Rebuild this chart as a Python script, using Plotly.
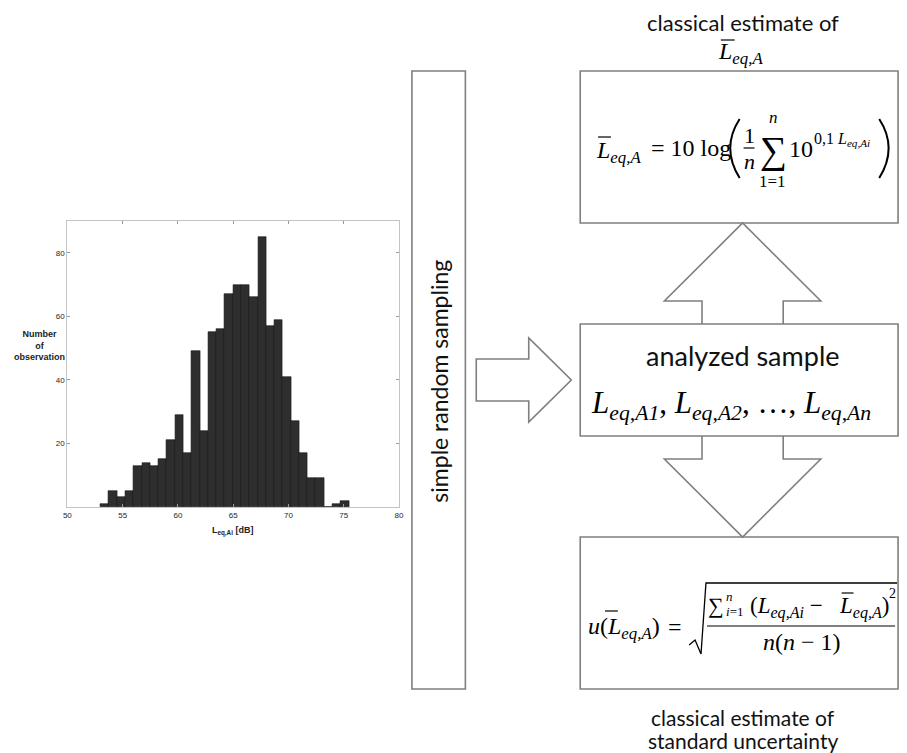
import plotly.graph_objects as go

# Histogram of measured equivalent sound levels
counts = [1, 5, 3, 5, 13, 14, 13, 15, 21, 29, 17, 49, 24, 55, 56,
          67, 70, 70, 66, 85, 57, 59, 41, 27, 17, 9, 9, 0, 1, 2]
bin_lo, bin_hi = 53.0, 75.47
x_ticks = [50, 55, 60, 65, 70, 75, 80]
y_ticks = [20, 40, 60, 80]

W, H = 907, 753
SERIF = "Liberation Serif"
SANS = "Lato"
HIST_FONT = "Liberation Sans"
EDGE = "#7f7f7f"

nb = len(counts)
bw = (bin_hi - bin_lo) / nb
centers = [bin_lo + bw * (i + 0.5) for i in range(nb)]

fig = go.Figure()
fig.add_trace(go.Bar(
    x=centers, y=counts, width=[bw] * nb,
    marker=dict(color="#2e2e2e", line=dict(color="#1a1a1a", width=0.6)),
    xaxis="x", yaxis="y", showlegend=False, hoverinfo="skip",
))
# empty trace so the full-page overlay axes exist
fig.add_trace(go.Scatter(x=[], y=[], xaxis="x2", yaxis="y2",
                         showlegend=False, hoverinfo="skip"))


def px(v):
    return v / W


def py(v):
    return 1 - v / H


axis_common = dict(showline=True, linecolor="#c4c4c4", linewidth=1,
                   mirror="ticks", ticks="inside", ticklen=3,
                   tickcolor="#9a9a9a", showgrid=False, zeroline=False,
                   tickfont=dict(family=HIST_FONT, size=8, color="#262626"))

fig.update_layout(
    width=W, height=H,
    margin=dict(l=0, r=0, t=0, b=0),
    paper_bgcolor="white", plot_bgcolor="rgba(0,0,0,0)",
    bargap=0,
    xaxis=dict(domain=[px(64), px(399)], range=[50, 80],
               tickvals=x_ticks, anchor="y", **axis_common),
    yaxis=dict(domain=[py(507), py(221)], range=[0, 90],
               tickvals=y_ticks, anchor="x", **axis_common),
    xaxis2=dict(domain=[0, 1], range=[0, W], visible=False, anchor="y2",
                fixedrange=True),
    yaxis2=dict(domain=[0, 1], range=[H, 0], visible=False, anchor="x2",
                fixedrange=True),
)

shapes = []
annotations = []


def txt(x, y, s, size, family=SERIF, xanchor="center", yanchor="middle",
        color="black", angle=0):
    annotations.append(dict(x=x, y=y, xref="x2", yref="y2", text=s,
                            showarrow=False, xanchor=xanchor, yanchor=yanchor,
                            textangle=angle,
                            font=dict(family=family, size=size, color=color)))


def line(x0, y0, x1, y1, color="black", width=1.2):
    shapes.append(dict(type="line", x0=x0, y0=y0, x1=x1, y1=y1,
                       xref="x2", yref="y2",
                       line=dict(color=color, width=width)))


def rect(x0, y0, x1, y1):
    shapes.append(dict(type="rect", x0=x0, y0=y0, x1=x1, y1=y1,
                       xref="x2", yref="y2", fillcolor="white",
                       line=dict(color=EDGE, width=1.6)))


def path(d, fill="white", color=EDGE, width=1.6):
    shapes.append(dict(type="path", path=d, xref="x2", yref="y2",
                       fillcolor=fill, line=dict(color=color, width=width)))


# histogram axis titles
txt(36, 345, "<b>Number<br>of<br>observation</b>", 9, family=HIST_FONT,
    color="#222")
txt(231, 531, "<b>L<sub>eq,Ai</sub> [dB]</b>", 9, family=HIST_FONT,
    color="#222")

# sampling box
rect(412, 71, 466, 689)
txt(439, 381, "simple random sampling", 23, family=SANS, angle=-90,
    color="#111")

# arrow to the sample
path("M 477 359 L 530 359 L 530 338 L 573 380 L 530 422 L 530 401 "
     "L 477 401 Z")

# three result boxes
rect(582, 71, 903, 223)
rect(582, 324, 903, 436)
rect(582, 537, 903, 689)

# double arrow between the boxes
path("M 705 324 L 705 301 L 667 301 L 746 223 L 825 301 L 787 301 "
     "L 787 324", fill="rgba(0,0,0,0)")
path("M 705 436 L 705 459 L 667 459 L 746 537 L 825 459 L 787 459 "
     "L 787 436", fill="rgba(0,0,0,0)")

# captions
txt(746, 22, "classical estimate of", 22, family=SANS, color="#111")
txt(744, 53, "<i>L</i><sub><i>eq,A</i></sub>", 24)
line(724, 40, 738, 40, width=1.2)
txt(746, 717, "classical estimate of", 21, family=SANS, color="#111")
txt(746, 740, "standard uncertainty", 21, family=SANS, color="#111")

# sample box content
txt(746, 355, "analyzed sample", 27, family=SANS, color="#111")
txt(734, 405,
    "<i>L</i><sub><i>eq,A1</i></sub>, <i>L</i><sub><i>eq,A2</i></sub>, …, "
    "<i>L</i><sub><i>eq,An</i></sub>", 31)

# mean level formula
txt(596, 152, "<i>L</i><sub><i>eq,A</i></sub>", 24, xanchor="left")
line(600, 137, 613, 137)
txt(651, 148, "= 10 log", 24, xanchor="left")
shapes.append(dict(type="path", path="M 743 119 Q 724 148 743 178",
                   xref="x2", yref="y2", line=dict(color="black", width=2)))
shapes.append(dict(type="path", path="M 884 119 Q 903 148 884 178",
                   xref="x2", yref="y2", line=dict(color="black", width=2)))
txt(753, 135, "1", 22)
line(747, 148, 758, 148)
txt(753, 161, "<i>n</i>", 22)
txt(777, 150, "∑", 38)
txt(777, 117, "<i>n</i>", 17)
txt(776, 181, "1=1", 17)
txt(805, 149, "10", 24)
txt(816, 139, "0,1 <i>L</i><sub><i>eq,Ai</i></sub>", 16, xanchor="left")

# standard uncertainty formula
txt(588, 628, "<i>u</i>(<i>L</i><sub><i>eq,A</i></sub>)", 24,
    xanchor="left")
line(607, 611, 620, 611)
txt(678, 627, "=", 24)
shapes.append(dict(type="path",
                   path="M 692 645 L 698 640 L 704 654 L 709 583 L 902 583",
                   xref="x2", yref="y2",
                   line=dict(color="black", width=1.3)))
txt(719, 605, "∑", 22)
txt(727, 596, "<i>n</i>", 13, xanchor="left")
txt(727, 611, "<i>i</i>=1", 13, xanchor="left")
txt(751, 607, "(<i>L</i><sub><i>eq,Ai</i></sub> −", 23, xanchor="left")
txt(841, 607, "<i>L</i><sub><i>eq,A</i></sub>)", 23, xanchor="left")
line(846, 593, 858, 593)
txt(897, 593, "2", 14)
line(710, 626, 900, 626, width=1.2)
txt(806, 642, "<i>n</i>(<i>n</i> − 1)", 24)

fig.update_layout(shapes=shapes, annotations=annotations)
fig.write_html("out.html")
